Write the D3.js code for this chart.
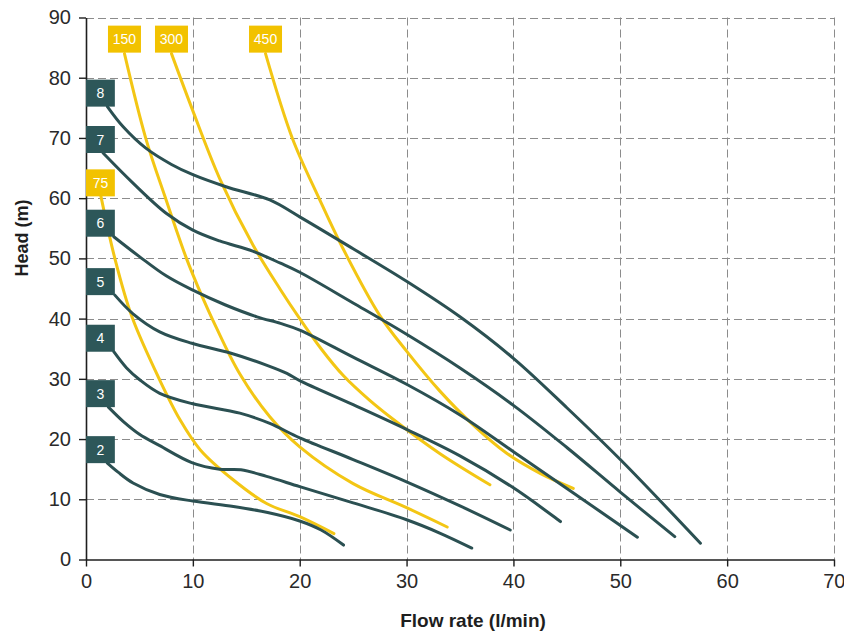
<!DOCTYPE html>
<html>
<head>
<meta charset="utf-8">
<script src="https://cdn.jsdelivr.net/npm/d3@7"></script>
<style>
  body { margin: 0; background: #fff; }
  svg { display: block; }
  text { font-family: "Liberation Sans", Arial, sans-serif; }
</style>
</head>
<body>
<svg id="chart" width="844" height="632"></svg>
<script>
// Axis ticks
const flowTicks = [0, 10, 20, 30, 40, 50, 60, 70];
const headTicks = [0, 10, 20, 30, 40, 50, 60, 70, 80, 90];

// Pump curves at each supply pressure (bar): [flow l/min, head m]
const pressureLabels = ["2", "3", "4", "5", "6", "7", "8"];
const curve2 = [[2.0,16.0],[3,14.5],[4.4,12.7],[6.9,10.8],[10,9.7],[13.8,8.8],[17,7.8],[20,6.4],[22,4.9],[24.1,2.4]];
const curve3 = [[2.1,25.3],[3.5,22.9],[5,20.8],[6.9,18.9],[9.9,16.1],[12.5,15.0],[14.5,14.9],[16.9,13.8],[20,12.1],[25,9.4],[30,6.6],[33.1,4.4],[36.1,1.9]];
const curve4 = [[2.6,34.5],[3.8,31.8],[5.05,29.8],[6.9,27.6],[9.9,25.9],[14.4,24.3],[17.2,22.6],[20,20.2],[25,16.6],[30,12.9],[35,8.9],[39.7,4.9]];
const curve5 = [[2.7,43.9],[4.4,40.8],[6.9,37.8],[9.9,35.9],[13.5,34.3],[17,32.2],[18.8,30.9],[20,29.7],[25,25.7],[30,21.6],[35,17.2],[40,11.9],[44.4,6.3]];
const curve6 = [[2.6,53.6],[5,50.3],[7.5,47.1],[9.9,44.8],[13,42.3],[16,40.3],[18.2,39.2],[20,38.1],[25,33.6],[30,29.1],[35,24.0],[40,17.9],[45,11.8],[51.6,3.7]];
const curve7 = [[1.6,67.5],[4.4,62.5],[7.5,57.5],[10,54.7],[12.5,52.9],[15.6,51.2],[18.2,49.2],[20,47.7],[25,42.6],[30,37.4],[35,31.8],[40,25.6],[45,18.6],[50,11.2],[55.1,3.8]];
const curve8 = [[2.0,75.2],[3.5,71.8],[5.6,68.3],[8,65.6],[10,63.9],[13.1,61.9],[17.2,59.7],[20,56.9],[25,51.6],[30,46.2],[35,40.3],[40,33.4],[45,25.2],[50,16.6],[57.5,2.7]];
const pressureCurves = [curve2, curve3, curve4, curve5, curve6, curve7, curve8];

// Air consumption lines (Nl/min): [flow l/min, head m]
const airLabels = ["75", "150", "300", "450"];
const air75  = [[1.4,60.3],[2.7,50],[4.3,40.3],[6.9,29.8],[8.8,23.2],[10.7,18.2],[13.8,13.2],[16.9,9.3],[20,7.1],[23.2,4.3]];
const air150 = [[3.6,84],[5.6,69.9],[7.5,59.7],[9.4,50],[10.5,45.2],[12.2,38.5],[14.4,30.8],[17.2,23.7],[20,18.7],[25,12.6],[30,8.6],[33.8,5.4]];
const air300 = [[8.0,84],[10,74.5],[12.5,63.3],[15.6,52.3],[18.2,44.8],[20,40],[22,35],[24.1,30.5],[26.5,26.5],[28.8,23.2],[33.1,17.6],[37.8,12.4]];
const air450 = [[16.8,84],[19.3,70],[21.8,60],[24,51.8],[27.5,40.5],[30,34.6],[33.1,28],[36.2,22.4],[39.4,17.6],[42.5,14.3],[45.6,11.8]];
const airCurves = [air75, air150, air300, air450];

const darkLine = "#2b5052";
const darkBox = "#2d5759";
const yellowLine = "#f3c614";
const yellowBox = "#f2c200";

const svg = d3.select("#chart");
const x = d3.scaleLinear().domain([0, 70]).range([86, 834]);
const y = d3.scaleLinear().domain([0, 90]).range([559.5, 17.5]);

// Dashed grid
const grid = svg.append("g").attr("stroke", "#8c8c8c").attr("stroke-width", 1)
  .attr("stroke-dasharray", "8,4").attr("fill", "none");
grid.selectAll("line.v").data(flowTicks.filter(d => d > 0)).join("line")
  .attr("class", "v")
  .attr("x1", d => Math.round(x(d)) + 0.5).attr("x2", d => Math.round(x(d)) + 0.5)
  .attr("y1", y(90)).attr("y2", y(0));
grid.selectAll("line.h").data(headTicks.filter(d => d > 0)).join("line")
  .attr("class", "h")
  .attr("x1", x(0)).attr("x2", x(70))
  .attr("y1", d => Math.round(y(d)) + 0.5).attr("y2", d => Math.round(y(d)) + 0.5);

// Axes
const xAxis = svg.append("g").attr("transform", `translate(0,${y(0)})`)
  .call(d3.axisBottom(x).tickValues(flowTicks).tickSize(7).tickSizeOuter(0).tickPadding(7));
const yAxis = svg.append("g").attr("transform", `translate(${x(0)},0)`)
  .call(d3.axisLeft(y).tickValues(headTicks).tickSize(7).tickSizeOuter(0).tickPadding(8));
[xAxis, yAxis].forEach(g => {
  g.selectAll(".domain").attr("stroke", "#1e1e1e").attr("stroke-width", 1.6);
  g.selectAll(".tick line").attr("stroke", "#1e1e1e").attr("stroke-width", 1.4);
  g.selectAll(".tick text").attr("fill", "#2a2a2a").style("font-size", "20px")
    .style("font-family", "'Liberation Sans', Arial, sans-serif");
});
// keep the last flow label inside the canvas edge
xAxis.selectAll(".tick text").filter(d => d === 70).attr("text-anchor", "end").attr("dx", "11");

// Axis titles
svg.append("text").attr("x", 473).attr("y", 627).attr("text-anchor", "middle")
  .attr("fill", "#1e1e1e").style("font-size", "19px").style("font-weight", "bold")
  .text("Flow rate (l/min)");
svg.append("text").attr("transform", "translate(28,238) rotate(-90)").attr("text-anchor", "middle")
  .attr("fill", "#1e1e1e").style("font-size", "18px").style("font-weight", "bold")
  .text("Head (m)");

const line = d3.line().x(d => x(d[0])).y(d => y(d[1])).curve(d3.curveCatmullRom.alpha(0.5));

// Air consumption lines
svg.append("g").selectAll("path").data(airCurves).join("path")
  .attr("d", line).attr("fill", "none").attr("stroke", yellowLine)
  .attr("stroke-width", 3).attr("stroke-linecap", "round");

// Pressure curves
svg.append("g").selectAll("path").data(pressureCurves).join("path")
  .attr("d", line).attr("fill", "none").attr("stroke", darkLine)
  .attr("stroke-width", 3).attr("stroke-linecap", "round");

// Curve labels: boxes docked on the head axis, or centred above the line start
function addLabel(text, start, fill, w) {
  const h = 27;
  let left, top;
  if (start[0] < 3) {
    left = x(0);
    w = x(2.7) - x(0);
    top = y(start[1]) - h;
  } else {
    left = x(start[0]) - w / 2;
    top = y(start[1]) - h - 1;
  }
  const g = svg.append("g");
  g.append("rect").attr("x", left).attr("y", top).attr("width", w).attr("height", h).attr("fill", fill);
  g.append("text").attr("x", left + w / 2).attr("y", top + h / 2).attr("dy", "0.36em")
    .attr("text-anchor", "middle").attr("fill", "#fff").style("font-size", "14px")
    .text(text);
}
pressureCurves.forEach((c, i) => addLabel(pressureLabels[i], c[0], darkBox, 29));
airCurves.forEach((c, i) => addLabel(airLabels[i], c[0], yellowBox, 33));
</script>
</body>
</html>
